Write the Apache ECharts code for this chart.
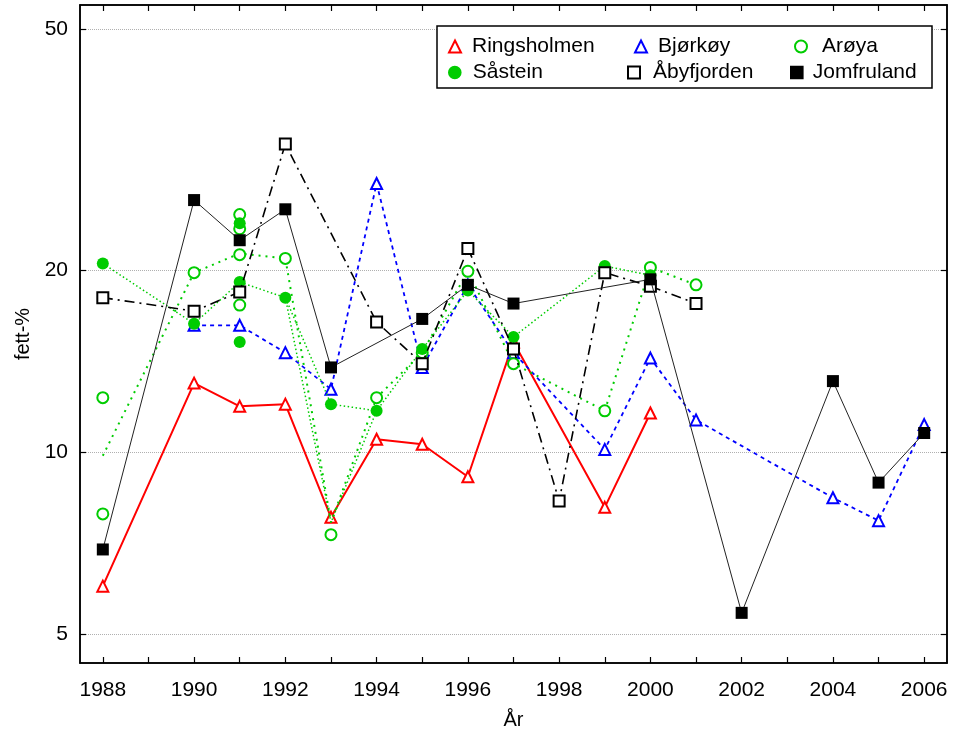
<!DOCTYPE html>
<html>
<head>
<meta charset="utf-8">
<script src="https://cdn.jsdelivr.net/npm/echarts@6/dist/echarts.min.js"></script>
<style>
html,body{margin:0;padding:0;background:#fff;}
#c{width:954px;height:735px;}
</style>
</head>
<body>
<div id="c"></div>
<script>
// ---- data ----
const xTicks = [1988,1989,1990,1991,1992,1993,1994,1995,1996,1997,1998,1999,2000,2001,2002,2003,2004,2005,2006];
const xLabels = [1988,1990,1992,1994,1996,1998,2000,2002,2004,2006];
const yTicks = [5,10,20,50];

const ringYears = [1988,1990,1991,1992,1993,1994,1995,1996,1997,1999,2000];
const ringVals  = [6.0,13.0,11.9,12.0,7.8,10.5,10.3,9.1,15.2,8.1,11.6];

const bjorYears = [1990,1991,1992,1993,1994,1995,1996,1997,1999,2000,2001,2004,2005,2006];
const bjorVals  = [16.2,16.2,14.6,12.7,27.8,13.8,18.9,14.6,10.1,14.3,11.3,8.4,7.7,11.1];

const aroyPtYears = [1988,1988,1990,1991,1991,1991,1991,1992,1993,1994,1995,1996,1997,1999,2000,2001];
const aroyPtVals  = [12.3,7.9,19.8,24.7,23.4,21.2,17.5,20.9,7.3,12.3,14.6,19.9,14.0,11.7,20.2,18.9];
const aroyLineYears = [1988,1990,1991,1992,1993,1994,1995,1996,1997,1999,2000,2001];
const aroyLineVals  = [9.86,19.8,21.3,20.9,7.65,12.3,14.6,19.9,14.0,11.7,20.2,18.9];

const sastPtYears = [1988,1990,1991,1991,1991,1992,1993,1994,1995,1996,1997,1999,2000];
const sastPtVals  = [20.5,16.3,23.9,19.1,15.2,18.0,12.0,11.7,14.8,18.5,15.5,20.3,19.6];
const sastLineYears = [1988,1990,1991,1992,1993,1994,1995,1996,1997,1999,2000];
const sastLineVals  = [20.5,16.3,19.1,18.0,12.0,11.7,14.8,18.5,15.5,20.3,19.6];
const greenExtraYears = [1992,1993,1994];
const greenExtraVals  = [18.0,7.65,11.7];

const abyYears = [1988,1990,1991,1992,1994,1995,1996,1997,1998,1999,2000,2001];
const abyVals  = [18.0,17.1,18.4,32.3,16.4,14.0,21.7,14.8,8.3,19.8,18.8,17.6];

const jomYears = [1988,1990,1991,1992,1993,1995,1996,1997,2000,2002,2004,2005,2006];
const jomVals  = [6.9,26.1,22.4,25.2,13.8,16.6,18.9,17.6,19.3,5.42,13.1,8.9,10.75];

const X_MIN = 1987.5, X_MAX = 2006.5;
const Y_MIN = 4.478, Y_MAX = 54.86;

const RED = '#ff0000', BLUE = '#0000ff', GREEN = '#00cc00', BLACK = '#000000';
const FONT = 'Liberation Sans, Arial, sans-serif';

function pairs(xs, ys){ return xs.map((x,i)=>[x, ys[i]]); }

const chart = echarts.init(document.getElementById('c'), null, {renderer:'canvas'});

function legendAt(name, icon, color, left, top, pad){
  return {
    data:[{name:name, icon:icon, itemStyle:{color:color, borderColor:color, borderWidth:1.6, opacity:1}}],
    left:left, top:top, padding:0, itemWidth:12, itemHeight:12,
    orient:'horizontal', selectedMode:false, z:10,
    textStyle:{fontSize:21, color:'#000', fontFamily:FONT, padding:[0,0,0,pad]}
  };
}

const option = {
  animation:false,
  backgroundColor:'#fff',
  grid:{left:80, right:7, top:5, bottom:72, outerBoundsMode:'none', containLabel:false,
        show:true, borderColor:'#000', borderWidth:1.5, backgroundColor:'transparent'},
  graphic:[{type:'rect', z:5, shape:{x:437, y:26, width:495, height:62}, style:{fill:'#fff', stroke:'#000', lineWidth:1.5}}],
  legend:[
    legendAt('Ringsholmen','emptyTriangle',RED,448,36,6),
    legendAt('Bjørkøy','emptyTriangle',BLUE,634,36,6),
    legendAt('Arøya','emptyCircle',GREEN,794,36,10),
    legendAt('Såstein','circle',GREEN,448,62,7),
    legendAt('Åbyfjorden','emptyRect',BLACK,627,62,8),
    legendAt('Jomfruland','rect',BLACK,790,62,5)
  ],
  xAxis:[{
    type:'value', min:X_MIN, max:X_MAX, position:'bottom',
    axisLine:{show:true, onZero:false, lineStyle:{color:'#000', width:1.5}},
    axisTick:{show:true, inside:true, length:6, customValues:xTicks, lineStyle:{color:'#000', width:1.2}},
    axisLabel:{customValues:xLabels, formatter:v=>String(v), fontSize:21, color:'#000', margin:17, fontFamily:FONT},
    splitLine:{show:false},
    name:'År', nameLocation:'middle', nameGap:47, nameTextStyle:{fontSize:20, color:'#000', fontFamily:FONT}
  },{
    type:'value', min:X_MIN, max:X_MAX, position:'top',
    axisLine:{show:true, onZero:false, lineStyle:{color:'#000', width:1.5}},
    axisTick:{show:true, inside:true, length:6, customValues:xTicks, lineStyle:{color:'#000', width:1.2}},
    axisLabel:{show:false}, splitLine:{show:false}
  }],
  yAxis:[{
    type:'log', logBase:10, min:Y_MIN, max:Y_MAX, position:'left',
    axisLine:{show:true, onZero:false, lineStyle:{color:'#000', width:1.5}},
    axisTick:{show:true, inside:true, length:6, customValues:yTicks, lineStyle:{color:'#000', width:1.2}},
    axisLabel:{customValues:yTicks, formatter:v=>String(v), fontSize:21, color:'#000', margin:12, fontFamily:FONT},
    splitLine:{show:true, lineStyle:{type:'dotted', color:'#b0b0b0', width:1}},
    minorTick:{show:false}, minorSplitLine:{show:false},
    name:'fett-%', nameLocation:'middle', nameGap:46, nameTextStyle:{fontSize:20, color:'#000', fontFamily:FONT}
  },{
    type:'log', logBase:10, min:Y_MIN, max:Y_MAX, position:'right',
    axisLine:{show:true, onZero:false, lineStyle:{color:'#000', width:1.5}},
    axisTick:{show:true, inside:true, length:6, customValues:yTicks, lineStyle:{color:'#000', width:1.2}},
    axisLabel:{show:false}, splitLine:{show:false}, minorTick:{show:false}
  }],
  series:[
    {name:'Ringsholmen', type:'line', z:3, data:pairs(ringYears, ringVals),
      symbol:'emptyTriangle', symbolSize:11,
      itemStyle:{color:RED, borderWidth:1.6}, lineStyle:{color:RED, width:2}},
    {name:'Bjørkøy', type:'line', z:4, data:pairs(bjorYears, bjorVals),
      symbol:'emptyTriangle', symbolSize:11,
      itemStyle:{color:BLUE, borderWidth:1.6}, lineStyle:{color:BLUE, width:1.8, type:[4,4]}},
    {name:'Arøya', type:'line', z:5, data:pairs(aroyLineYears, aroyLineVals),
      showSymbol:false, symbol:'none', itemStyle:{color:GREEN}, lineStyle:{color:GREEN, width:2, type:[2,5]}},
    {name:'Arøya', type:'scatter', z:5, data:pairs(aroyPtYears, aroyPtVals),
      symbol:'emptyCircle', symbolSize:11, itemStyle:{color:GREEN, borderWidth:1.5, opacity:1}},
    {name:'Såstein', type:'line', z:6, data:pairs(sastLineYears, sastLineVals),
      showSymbol:false, symbol:'none', itemStyle:{color:GREEN}, lineStyle:{color:GREEN, width:1.5, type:[1.5,2.5]}},
    {name:'Såstein2', type:'line', z:6, data:pairs(greenExtraYears, greenExtraVals),
      showSymbol:false, symbol:'none', itemStyle:{color:GREEN}, lineStyle:{color:GREEN, width:1.5, type:[1.5,2.5]}},
    {name:'Såstein', type:'scatter', z:6, data:pairs(sastPtYears, sastPtVals),
      symbol:'circle', symbolSize:12, itemStyle:{color:GREEN, opacity:1}},
    {name:'Åbyfjorden', type:'line', z:7, data:pairs(abyYears, abyVals),
      symbol:'emptyRect', symbolSize:11,
      itemStyle:{color:BLACK, borderWidth:1.6}, lineStyle:{color:BLACK, width:1.6, type:[10,5,2,5]}},
    {name:'Jomfruland', type:'line', z:8, data:pairs(jomYears, jomVals),
      symbol:'rect', symbolSize:12,
      itemStyle:{color:BLACK}, lineStyle:{color:'#222', width:1}}
  ]
};
chart.setOption(option);
</script>
</body>
</html>
